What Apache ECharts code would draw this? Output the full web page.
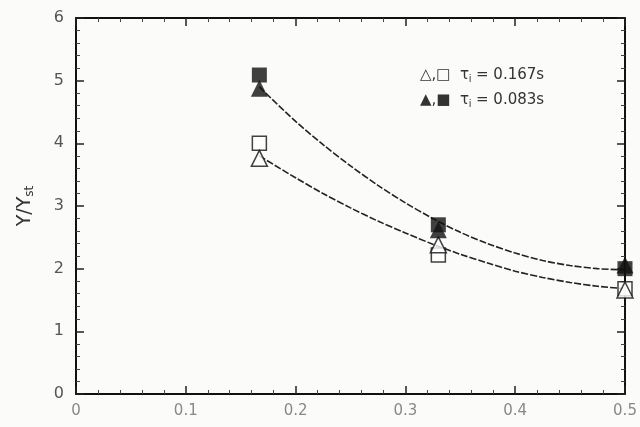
<!DOCTYPE html>
<html><head><meta charset="utf-8">
<script src="https://cdn.jsdelivr.net/npm/echarts@6/dist/echarts.min.js"></script>
<style>html,body{margin:0;padding:0;background:#fbfbf9}#c{width:640px;height:427px}</style>
</head><body><div id="c"></div>
<script>
const xTicks = [0, 0.1, 0.2, 0.3, 0.4, 0.5];
const yTicks = [0, 1, 2, 3, 4, 5, 6];
const xData = [0.167, 0.33, 0.5];
const openTri167 = [3.76, 2.38, 1.66];
const openSq167 = [4.0, 2.22, 1.68];
const fillTri083 = [4.88, 2.62, 2.06];
const fillSq083 = [5.09, 2.70, 2.0];
const curveX = [0.167, 0.2, 0.225, 0.25, 0.275, 0.3, 0.325, 0.35, 0.375, 0.4, 0.425, 0.45, 0.475, 0.5];
const curveUpperY = [4.9, 4.35, 3.98, 3.64, 3.33, 3.05, 2.8, 2.58, 2.40, 2.25, 2.13, 2.05, 2.0, 1.98];
const curveLowerY = [3.8, 3.45, 3.2, 2.97, 2.76, 2.57, 2.39, 2.23, 2.09, 1.96, 1.86, 1.78, 1.72, 1.68];

const chart = echarts.init(document.getElementById('c'));
const pair = (xs, ys) => xs.map((x, i) => [x, ys[i]]);
const axisCommon = () => ({
  axisLine: {onZero: false, lineStyle: {color: '#111', width: 2}},
  axisTick: {inside: true, length: 8, lineStyle: {color: '#222', width: 1.5}},
  minorTick: {show: true, splitNumber: 5, length: 4, lineStyle: {color: '#444'}},
  splitLine: {show: false}
});
chart.setOption({
  animation: false,
  backgroundColor: '#fbfbf9',
  grid: {left: 76, right: 15, top: 18, bottom: 33},
  xAxis: [
    Object.assign({type: 'value', min: 0, max: 0.5, interval: 0.1,
      axisLabel: {color: '#888', fontSize: 15, fontFamily: 'DejaVu Sans', margin: 10,
        formatter: v => { const t = xTicks.find(k => Math.abs(k - v) < 1e-9); return t === 0 ? '0' : String(t); }}}, axisCommon()),
    Object.assign({type: 'value', min: 0, max: 0.5, interval: 0.1, position: 'top', axisLabel: {show: false}}, axisCommon())
  ],
  yAxis: [
    Object.assign({type: 'value', min: 0, max: 6, interval: 1,
      name: 'Y/Y{s|st}', nameLocation: 'middle', nameGap: 40, nameRotate: 90,
      nameTextStyle: {fontSize: 19, color: '#333', fontFamily: 'DejaVu Sans',
        rich: {s: {fontSize: 12, color: '#333', verticalAlign: 'bottom', padding: [10, 0, 0, 0]}}},
      axisLabel: {color: '#555', fontSize: 16, fontFamily: 'DejaVu Sans', margin: 12,
        formatter: v => String(yTicks.find(k => k === v))}}, axisCommon()),
    Object.assign({type: 'value', min: 0, max: 6, interval: 1, position: 'right', axisLabel: {show: false}}, axisCommon())
  ],
  series: [
    {type: 'line', data: pair(curveX, curveUpperY), smooth: 0.3, showSymbol: false, lineStyle: {color: '#222', width: 1.6, type: [7, 2]}, z: 2},
    {type: 'line', data: pair(curveX, curveLowerY), smooth: 0.3, showSymbol: false, lineStyle: {color: '#222', width: 1.6, type: [7, 2]}, z: 2},
    {type: 'scatter', data: pair(xData, openSq167), symbol: 'rect', symbolSize: 14, clip: false,
      itemStyle: {color: '#fff', borderColor: '#111', borderWidth: 1.5}, z: 4},
    {type: 'scatter', data: pair(xData, openTri167), symbol: 'triangle', symbolSize: 16, clip: false,
      itemStyle: {color: '#fff', borderColor: '#111', borderWidth: 1.5}, z: 4},
    {type: 'scatter', data: pair(xData, fillTri083), symbol: 'triangle', symbolSize: 17, clip: false,
      itemStyle: {color: '#111'}, z: 5},
    {type: 'scatter', data: pair(xData, fillSq083), symbol: 'rect', symbolSize: 15, clip: false,
      itemStyle: {color: '#111'}, z: 5}
  ],
  graphic: [
    {type: 'text', left: 420, top: 68, style: {text: '△,□  τ{s|i} = 0.167s', fill: '#333', fontSize: 15, fontFamily: 'DejaVu Sans',
      rich: {s: {fontSize: 10, fill: '#333', padding: [8, 0, 0, 0]}}}},
    {type: 'text', left: 420, top: 93, style: {text: '▲,■  τ{s|i} = 0.083s', fill: '#333', fontSize: 15, fontFamily: 'DejaVu Sans',
      rich: {s: {fontSize: 10, fill: '#333', padding: [8, 0, 0, 0]}}}}
  ]
});
</script></body></html>
